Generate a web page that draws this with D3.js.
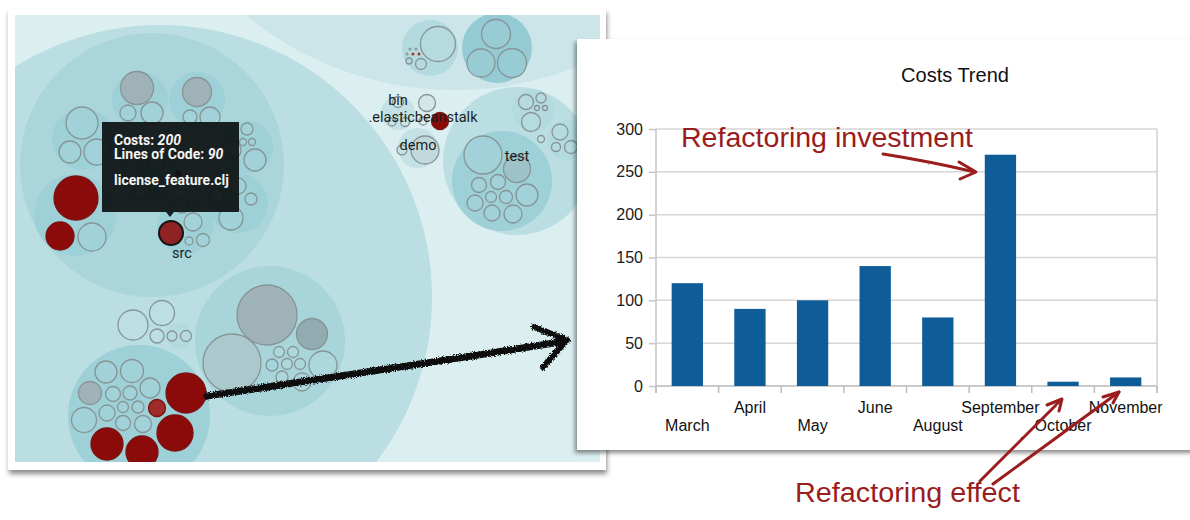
<!DOCTYPE html>
<html>
<head>
<meta charset="utf-8">
<script src="https://cdn.jsdelivr.net/npm/d3@7"></script>
<style>
  html, body { margin: 0; padding: 0; background: #fff; }
  svg { display: block; }
</style>
</head>
<body>
<svg id="chart" width="1190" height="520"></svg>
<script>
// ---- Costs trend (bar chart) ----
const months = ["March", "April", "May", "June", "August", "September", "October", "November"];
const costs = [120, 90, 100, 140, 80, 270, 5, 10];
const yTicks = [0, 50, 100, 150, 200, 250, 300];

// ---- Circle-pack snapshot of the code base: [x, y, r, kind] in pack-view units ----
const packDirs = [
  [455, -240, 330, "outer"],
  [160, 297, 272, "module"],
  [517, 161, 74, "module"],
  [152, 165, 132, "dir"]
];
const packGroups = [
  [140, 100, 28, "pkg"], [197, 100, 28, "pkg"], [83, 139, 31, "pkg"], [75, 215, 41, "pkg"],
  [247, 147, 26, "pkg"], [238, 203, 30, "pkg"], [185, 226, 28, "pkg"], [150, 178, 28, "pkg"],
  [179, 336, 13, "pkgLight"], [139, 416, 71, "pkg"], [270, 341, 75, "pkgMid"],
  [398, 113, 17, "pkgPale"], [418, 148, 20, "pkgPale"],
  [430, 48, 28, "pkgLight"], [497, 48, 35, "pkgDark"],
  [533, 110, 21, "pkgLight"], [567, 140, 20, "pkgLight"], [502, 181, 50, "pkg"]
];
const packFiles = [
  [137, 88, 16.5, "gray"], [128, 113, 8, "file"], [152, 113, 11, "file"],
  [197, 92, 14.5, "gray"], [190, 117, 7, "file"], [210, 117, 10, "file"],
  [82, 123, 16, "file"], [70, 152, 11, "file"], [97, 152, 13, "file"],
  [76, 198, 22, "hot"], [60, 236, 14, "hot"], [92, 237, 14, "file"],
  [247, 129, 6, "file"], [243, 142, 3.5, "file"], [252, 142, 3.5, "file"], [255, 160, 11, "file"], [232, 150, 9, "file"],
  [231, 218, 12, "file"], [251, 199, 6, "file"], [238, 186, 8, "file"], [217, 196, 7, "file"],
  [171, 233, 12, "sel"], [193, 222, 9, "file"], [189, 241, 4, "file"], [203, 240, 6.5, "file"], [182, 206, 7, "file"],
  [132, 168, 10, "file"], [156, 162, 8, "file"], [166, 186, 9, "file"], [142, 192, 8, "file"], [178, 174, 2.5, "hot"],
  [133, 325, 15, "file"], [162, 313, 12.5, "file"], [157, 336, 7, "file"], [172, 336, 5, "file"], [186, 336, 5.5, "file"],
  [90, 393, 11.5, "gray"], [106, 372, 11, "file"], [132, 371, 11.5, "file"], [150, 388, 10, "file"],
  [113, 394, 7.5, "file"], [130, 393, 7, "file"], [107, 413, 8, "file"], [123, 407, 5.5, "file"],
  [138, 407, 6, "file"], [123, 423, 7.5, "file"], [143, 424, 8.5, "file"], [84, 420, 12.5, "file"],
  [186, 393, 20, "hot"], [157, 408, 8.5, "warm"], [175, 433, 18, "hot"], [107, 444, 16, "hot"], [142, 452, 16, "hot"],
  [267, 315, 30, "gray"], [312, 334, 15.5, "grayDark"], [232, 363, 29, "pale"],
  [279, 352, 5.5, "file"], [293, 352, 5.5, "file"], [272, 365, 6, "fileTint"], [287, 364, 5.5, "file"],
  [300, 364, 5.5, "file"], [282, 377, 6, "file"], [302, 382, 9, "file"], [323, 365, 14, "file"],
  [398, 102, 5.5, "mist"], [392, 122, 4, "file"], [405, 122, 4.5, "file"],
  [427, 103, 8.5, "mist"], [440, 121, 8.5, "hot"], [423, 121, 4, "file"],
  [425, 150, 14, "mistDark"], [402, 150, 5, "file"],
  [438, 44, 17.5, "file"], [421, 64, 5.5, "file"], [409, 61, 3, "file"],
  [410, 49, 1.5, "dot"], [416, 49, 1.5, "dot"], [407, 54, 1.5, "dot"], [413, 54, 1.5, "dotHot"], [419, 54, 1.5, "dotHot"],
  [496, 34, 14.5, "file"], [481, 63, 14, "file"], [512, 63, 14.5, "file"],
  [526, 102, 7.5, "file"], [541, 98, 5, "file"], [537, 108, 2.5, "file"], [545, 108, 2.5, "file"], [531, 122, 9.5, "file"],
  [560, 132, 8, "file"], [556, 147, 4.5, "file"], [571, 147, 6.5, "file"], [541, 139, 3.5, "file"],
  [483, 155, 19, "file"], [517, 169, 13.5, "grayTeal"], [479, 185, 7.5, "file"], [498, 182, 7.5, "file"],
  [527, 195, 11, "file"], [491, 197, 5.5, "file"], [506, 197, 6.5, "file"], [475, 203, 8, "file"],
  [492, 213, 8, "file"], [513, 214, 9, "file"]
];
const packLabels = [
  ["src", 182, 258], ["bin", 398, 105], [".elasticbeanstalk", 423, 122], ["demo", 418, 150], ["test", 517, 161]
];
const tooltipCost = 200;
const tooltipLoc = 90;
const tooltipFile = "license_feature.clj";

const svg = d3.select("#chart");
const defs = svg.append("defs");

// pencil-like roughness for the hand-drawn arrows
function roughFilter(id, scale, freq) {
  const f = defs.append("filter").attr("id", id)
    .attr("filterUnits", "userSpaceOnUse").attr("x", 0).attr("y", 0)
    .attr("width", 1190).attr("height", 520);
  f.append("feTurbulence").attr("type", "fractalNoise").attr("baseFrequency", freq)
    .attr("numOctaves", 2).attr("seed", 3).attr("result", "noise");
  f.append("feDisplacementMap").attr("in", "SourceGraphic").attr("in2", "noise")
    .attr("scale", scale).attr("xChannelSelector", "R").attr("yChannelSelector", "G");
}
roughFilter("roughBlack", 4.5, 0.9);
roughFilter("roughRed", 1.4, 0.7);

function shadow(id, dx, dy, sd, op) {
  const f = defs.append("filter").attr("id", id)
    .attr("x", "-5%").attr("y", "-5%").attr("width", "110%").attr("height", "112%");
  f.append("feDropShadow").attr("dx", dx).attr("dy", dy).attr("stdDeviation", sd)
    .attr("flood-color", "#000").attr("flood-opacity", op);
}
shadow("cardShadowL", 1, 4, 2.5, 0.45);
shadow("cardShadowR", -2, 3, 2.2, 0.45);

// ---------------- Left card: circle packing view ----------------
svg.append("rect").attr("x", 8).attr("y", 9).attr("width", 598).attr("height", 461)
  .attr("fill", "#fff").attr("filter", "url(#cardShadowL)");

defs.append("clipPath").attr("id", "packClip")
  .append("rect").attr("x", 15).attr("y", 15).attr("width", 585).attr("height", 447);

const packX = d3.scaleLinear().domain([15, 600]).range([15, 600]);
const packY = d3.scaleLinear().domain([15, 462]).range([15, 462]);
const packR = d3.scaleLinear().domain([0, 100]).range([0, 100]);

const fillOf = {
  outer: "#cbe5e8", module: "#badee2", dir: "#aad6db",
  pkg: "#9dd0d7", pkgLight: "#b3dade", pkgMid: "#a8d5da", pkgPale: "#c4e2e5", pkgDark: "#93cad3",
  file: "rgba(255,255,255,0.05)", fileTint: "#a3d6dc",
  gray: "#9fb3b7", grayDark: "#91abb0", grayTeal: "#9dc3c8", pale: "#abc9cd",
  mist: "#d5e6e8", mistDark: "#c2d9dc",
  hot: "#8b0b0b", warm: "#a02b2b", sel: "#8f2323",
  dot: "#8d9a9c", dotHot: "#a83232"
};
const strokeOf = k => {
  if (k === "sel") return "#141414";
  if (k === "hot" || k === "warm") return "#7d1212";
  if (k === "dot" || k === "dotHot") return "none";
  return "#879496";
};

const pack = svg.append("g").attr("clip-path", "url(#packClip)");
pack.append("rect").attr("x", 15).attr("y", 15).attr("width", 585).attr("height", 447).attr("fill", "#dbeef0");

pack.selectAll("circle.dir").data(packDirs).join("circle").attr("class", "dir")
  .attr("cx", d => packX(d[0])).attr("cy", d => packY(d[1])).attr("r", d => packR(d[2]))
  .attr("fill", d => fillOf[d[3]]);

pack.selectAll("circle.grp").data(packGroups).join("circle").attr("class", "grp")
  .attr("cx", d => packX(d[0])).attr("cy", d => packY(d[1])).attr("r", d => packR(d[2]))
  .attr("fill", d => fillOf[d[3]]);

pack.selectAll("circle.leaf").data(packFiles).join("circle").attr("class", "leaf")
  .attr("cx", d => packX(d[0])).attr("cy", d => packY(d[1])).attr("r", d => packR(d[2]))
  .attr("fill", d => fillOf[d[3]])
  .attr("stroke", d => strokeOf(d[3]))
  .attr("stroke-width", d => d[3] === "sel" ? 2 : 1.3);

pack.selectAll("text.lbl").data(packLabels).join("text").attr("class", "lbl")
  .attr("x", d => packX(d[1])).attr("y", d => packY(d[2]))
  .attr("text-anchor", "middle")
  .attr("font-family", "Roboto, 'Noto Sans', sans-serif").attr("font-size", 14.5)
  .attr("fill", "#1e1e1e").text(d => d[0]);

// tooltip over the selected file
const tip = pack.append("g");
tip.append("rect").attr("x", 102).attr("y", 122).attr("width", 137).attr("height", 90)
  .attr("fill", "#0d1212").attr("fill-opacity", 0.93);
tip.append("path").attr("d", "M166,212 L174,212 L170,217 Z").attr("fill", "#0d1212").attr("fill-opacity", 0.93);
const tipText = tip.append("text").attr("font-family", "Roboto, 'Noto Sans', sans-serif")
  .attr("font-size", 14).attr("font-weight", "bold").attr("fill", "#f4f4f4");
const l1 = tipText.append("tspan").attr("x", 114).attr("y", 145);
l1.append("tspan").text("Costs: ");
l1.append("tspan").attr("font-style", "italic").text(tooltipCost);
const l2 = tipText.append("tspan").attr("x", 114).attr("y", 159);
l2.append("tspan").text("Lines of Code: ");
l2.append("tspan").attr("font-style", "italic").text(tooltipLoc);
tipText.append("tspan").attr("x", 114).attr("y", 185).text(tooltipFile);

// ---------------- Right card: Costs Trend ----------------
svg.append("rect").attr("x", 577).attr("y", 39).attr("width", 640).attr("height", 411)
  .attr("fill", "#fff").attr("filter", "url(#cardShadowR)");

const x = d3.scaleBand().domain(months).range([656, 1157]).paddingInner(0.5).paddingOuter(0.25);
const y = d3.scaleLinear().domain([0, 300]).range([386, 129]);
const chart = svg.append("g");
const FONT = "'Liberation Sans', Arial, sans-serif";

chart.append("text").attr("x", 955).attr("y", 82).attr("text-anchor", "middle")
  .attr("font-family", FONT).attr("font-size", 20).attr("fill", "#111").text("Costs Trend");

// horizontal grid
chart.selectAll("line.grid").data(yTicks).join("line").attr("class", "grid")
  .attr("x1", 656).attr("x2", x.range()[1])
  .attr("y1", d => y(d)).attr("y2", d => y(d))
  .attr("stroke", d => d === 0 ? "#b9b9b9" : "#d6d6d6").attr("stroke-width", 1.5);

// y axis
const yAxis = chart.append("g").attr("transform", "translate(656,0)")
  .call(d3.axisLeft(y).tickValues(yTicks).tickSize(7).tickPadding(6));
yAxis.select(".domain").remove();
yAxis.selectAll(".tick line").attr("stroke", "#c4c4c4").attr("stroke-width", 1.5);
yAxis.selectAll(".tick text").attr("font-family", FONT).attr("font-size", 16).attr("fill", "#1a1a1a");

// left and right frame lines
const [x0, x1] = x.range();
chart.append("line").attr("x1", x0).attr("x2", x0).attr("y1", y(300)).attr("y2", y(0) + 7)
  .attr("stroke", "#c4c4c4").attr("stroke-width", 1.5);
chart.append("line").attr("x1", x1).attr("x2", x1).attr("y1", y(300)).attr("y2", y(0) + 7)
  .attr("stroke", "#cfcfcf").attr("stroke-width", 1.5);

// category separators
chart.selectAll("line.sep").data(d3.range(months.length + 1)).join("line").attr("class", "sep")
  .attr("x1", i => x0 + i * x.step()).attr("x2", i => x0 + i * x.step())
  .attr("y1", y(0)).attr("y2", y(0) + 7)
  .attr("stroke", "#bdbdbd").attr("stroke-width", 1.5);

// bars
chart.selectAll("rect.bar").data(months).join("rect").attr("class", "bar")
  .attr("x", d => x(d)).attr("width", x.bandwidth())
  .attr("y", (d, i) => y(costs[i])).attr("height", (d, i) => y(0) - y(costs[i]))
  .attr("fill", "#0e5c98");

// staggered month labels
chart.selectAll("text.month").data(months).join("text").attr("class", "month")
  .attr("x", d => x(d) + x.bandwidth() / 2)
  .attr("y", (d, i) => i % 2 === 0 ? 431 : 413)
  .attr("text-anchor", "middle").attr("font-family", FONT).attr("font-size", 16)
  .attr("fill", "#111").text(d => d);

// ---------------- Annotations ----------------
const RED = "#9b1c1c";
svg.append("text").attr("x", 681).attr("y", 147).attr("font-family", FONT).attr("font-size", 27)
  .attr("fill", RED).attr("textLength", 292).attr("lengthAdjust", "spacingAndGlyphs")
  .text("Refactoring investment");
svg.append("text").attr("x", 795).attr("y", 502).attr("font-family", FONT).attr("font-size", 27)
  .attr("fill", RED).attr("textLength", 225).attr("lengthAdjust", "spacingAndGlyphs")
  .text("Refactoring effect");

const redArrows = svg.append("g").attr("fill", "none").attr("stroke", RED).attr("stroke-width", 3)
  .attr("stroke-linecap", "round").attr("stroke-linejoin", "round").attr("filter", "url(#roughRed)");
redArrows.append("path").attr("d", "M883,154 C915,159 945,165 975,172");
redArrows.append("path").attr("d", "M959,162 L976,172 L960,179");
redArrows.append("path").attr("d", "M980,481 L1061,400");
redArrows.append("path").attr("d", "M1047,405 L1062,399 L1059,411");
redArrows.append("path").attr("d", "M993,484 L1119,392");
redArrows.append("path").attr("d", "M1103,397 L1119,392 L1113,403");

// black marker arrow from the cluster to the chart
const blackArrow = svg.append("g").attr("fill", "none").attr("stroke", "#0b0b0b")
  .attr("stroke-linecap", "round").attr("stroke-linejoin", "round").attr("filter", "url(#roughBlack)");
blackArrow.append("path").attr("d", "M207,396 C300,382 450,360 566,341").attr("stroke-width", 7);
blackArrow.append("path").attr("d", "M534,327 L567,340 L543,367").attr("stroke-width", 6);
</script>
</body>
</html>
